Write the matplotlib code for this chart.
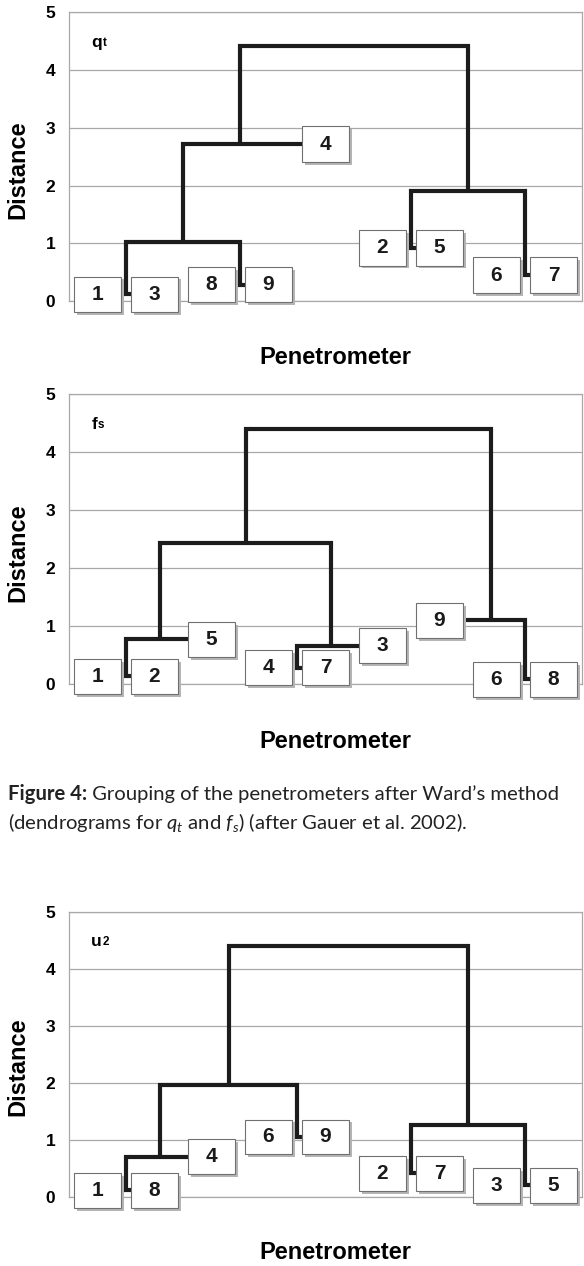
import matplotlib
matplotlib.use('Agg')
import matplotlib.pyplot as plt
from matplotlib.patches import Rectangle

plt.rcParams['font.family'] = ['Liberation Sans', 'DejaVu Sans']
plt.rcParams['mathtext.fontset'] = 'custom'
plt.rcParams['mathtext.rm'] = 'Lato'
plt.rcParams['mathtext.it'] = 'Lato:italic'
plt.rcParams['mathtext.bf'] = 'Lato:bold'

# leaf order along the x axis (one slot per penetrometer)
qt_leaves = [1, 3, 8, 9, 4, 2, 5, 6, 7]
fs_leaves = [1, 2, 5, 4, 7, 3, 9, 6, 8]
u2_leaves = [1, 8, 4, 6, 9, 2, 7, 3, 5]

# merges: (child a, child b, distance); 'cN' = cluster made by merge N
qt_merges = [(1, 3, 0.12), (8, 9, 0.28), ('c0', 'c1', 1.02), ('c2', 4, 2.72),
             (2, 5, 0.92), (6, 7, 0.45), ('c4', 'c5', 1.91), ('c3', 'c6', 4.41)]
fs_merges = [(1, 2, 0.13), ('c0', 5, 0.77), (4, 7, 0.28), ('c2', 3, 0.66),
             ('c1', 'c3', 2.44), (6, 8, 0.08), (9, 'c5', 1.10), ('c4', 'c6', 4.41)]
u2_merges = [(1, 8, 0.11), ('c0', 4, 0.70), (6, 9, 1.05), ('c1', 'c2', 1.96),
             (2, 7, 0.41), (3, 5, 0.20), ('c4', 'c5', 1.26), ('c3', 'c6', 4.40)]

panel_names = [('q', 't'), ('f', 's'), ('u', '2')]
yticks = [0, 1, 2, 3, 4, 5]

caption_bold = 'Figure 4:'
caption1 = ' Grouping of the penetrometers after Ward’s method'
caption2 = r'(dendrograms for $q_t$ and $f_s$) (after Gauer et al. 2002).'

fig = plt.figure(figsize=(5.84, 12.66), dpi=100)
rects = [[0.1182, 0.7622, 0.8784, 0.2280],
         [0.1182, 0.4597, 0.8784, 0.2288],
         [0.1182, 0.0547, 0.8784, 0.2251]]

bw, bh = 0.82, 0.61
grey = '#a8a8a8'


def dendro(ax, leaves, merges, name):
    xs = {leaf: i + 0.5 for i, leaf in enumerate(leaves)}
    ys = {}
    for k, (a, b, h) in enumerate(merges):
        for c in (a, b):
            if c not in ys:
                ys[c] = h
        a_leaf = not str(a).startswith('c')
        b_leaf = not str(b).startswith('c')
        if a_leaf == b_leaf:
            xm = (xs[a] + xs[b]) / 2
        elif a_leaf:
            xm = xs[b] + 0.4 * (xs[a] - xs[b])
        else:
            xm = xs[a] + 0.4 * (xs[b] - xs[a])
        ax.plot([xs[a], xs[a], xs[b], xs[b]], [ys[a], h, h, ys[b]],
                color='#1c1c1c', lw=3, solid_joinstyle='miter',
                solid_capstyle='butt', zorder=3, clip_on=False)
        xs['c%d' % k] = xm
        ys['c%d' % k] = h

    for leaf in leaves:
        x, y = xs[leaf], ys[leaf]
        ax.add_patch(Rectangle((x - bw / 2 + 0.05, y - bh / 2 - 0.05), bw, bh,
                               fc='#b5b5b5', ec='none', zorder=4, clip_on=False))
        ax.add_patch(Rectangle((x - bw / 2, y - bh / 2), bw, bh, fc='white',
                               ec='#707070', lw=0.8, zorder=5, clip_on=False))
        ax.text(x, y, str(leaf), ha='center', va='center', fontsize=15,
                fontweight='bold', color='#1a1a1a', zorder=6)

    # panel label: letter plus a small index sitting on the baseline
    main = ax.text(0.39, 4.40, name[0], fontsize=12.5, fontweight='bold',
                   va='baseline', ha='left')
    ax.annotate(name[1], xy=(1, 0), xycoords=main, xytext=(0.3, 2.7),
                textcoords='offset points', fontsize=8.5, fontweight='bold',
                va='baseline', ha='left')


for rect, leaves, merges, name in zip(rects, [qt_leaves, fs_leaves, u2_leaves],
                                      [qt_merges, fs_merges, u2_merges],
                                      panel_names):
    ax = fig.add_axes(rect)
    ax.set_xlim(0, 9)
    ax.set_ylim(0, 5)
    ax.set_xticks([])
    ax.set_yticks(yticks, [str(t) for t in yticks], fontweight='bold')
    ax.tick_params(axis='y', length=0, pad=10, labelsize=12.5)
    ax.yaxis.grid(True, color=grey, lw=0.9)
    ax.set_axisbelow(True)
    for s in ax.spines.values():
        s.set_color(grey)
        s.set_linewidth(0.9)
    ax.text(-0.1, 0.455, 'Distance', transform=ax.transAxes, rotation=90,
            ha='center', va='center', fontsize=17, fontweight='bold')
    ax.text(0.52, -0.197, 'Penetrometer', transform=ax.transAxes,
            ha='center', va='center', fontsize=17, fontweight='bold')
    dendro(ax, leaves, merges, name)

cap = fig.text(8 / 584, 1 - 800 / 1266, caption_bold, va='baseline',
               fontsize=14.6, family='Lato', fontweight='bold', color='#222222')
fig.canvas.draw()
fig.text(cap.get_window_extent().x1 / fig.bbox.width, 1 - 800 / 1266, caption1,
         va='baseline', fontsize=14.6, family='Lato', color='#222222')
fig.text(8 / 584, 1 - 829 / 1266, caption2, va='baseline', fontsize=14.6,
         family='Lato', color='#222222')

fig.savefig('out.png', dpi=100)
